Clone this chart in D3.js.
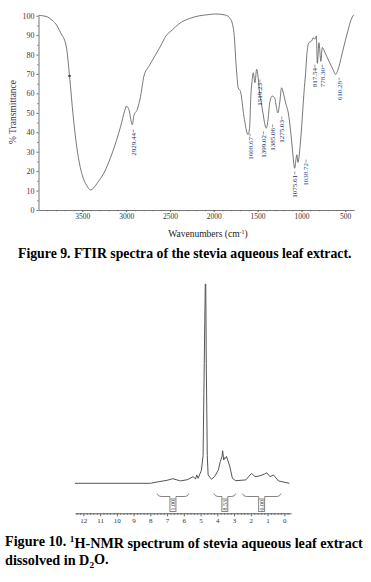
<!DOCTYPE html>
<html>
<head>
<meta charset="utf-8">
<script src="https://cdn.jsdelivr.net/npm/d3@7"></script>
<style>
  body { margin: 0; background: #fff; }
  svg { display: block; }
</style>
</head>
<body>
<svg id="fig" width="371" height="582"></svg>
<script>
// FTIR spectrum (wavenumber cm-1, % transmittance)
const ftirWavenumber = [4000, 3900, 3860, 3800, 3748, 3684, 3646, 3604, 3559, 3502, 3450, 3406, 3370, 3330, 3254, 3159, 3063, 3020, 2995, 2969, 2929.44, 2912, 2874, 2835, 2797, 2740, 2683, 2607, 2550, 2470, 2398, 2280, 2170, 2050, 1979, 1865, 1808, 1770, 1744, 1721, 1695, 1656, 1609, 1590, 1579, 1561, 1550, 1530, 1511, 1493, 1477, 1458, 1439, 1416, 1400, 1381, 1362, 1333, 1305, 1287, 1268, 1248, 1226, 1207, 1180, 1150, 1123, 1104, 1076, 1063, 1052, 1039, 1019, 997, 971, 952, 934, 914, 883, 865, 845, 830, 818, 800, 778, 762, 731, 686, 640, 610, 571, 533, 495, 465, 438, 412, 400];
const ftirTransmittance = [100.2, 99.4, 98.2, 95.6, 91.3, 84.4, 69, 48.2, 31, 18.1, 12.6, 10.3, 11.4, 13.8, 19, 29.3, 43, 50.5, 53.4, 51.7, 43.9, 48.6, 51.7, 58.6, 68.9, 74, 78.4, 84.4, 89.3, 92.8, 95.8, 98.5, 99.9, 100.6, 100.9, 100.3, 98.2, 91.3, 74, 62.9, 61, 48.2, 38.8, 43, 56.8, 67.2, 70.6, 65.5, 72.4, 68, 60.3, 55.1, 50, 43.9, 42.2, 46.5, 55.1, 58.6, 57.7, 53.4, 50, 55.1, 62.9, 60.3, 55.1, 50, 40.5, 31.9, 21.5, 25.8, 28.4, 24.5, 31, 43, 60.3, 70.6, 82, 86.1, 87, 88.7, 87.9, 89.6, 75.5, 86.1, 76.5, 83.6, 81, 76.6, 72.4, 69.8, 74, 81, 87.9, 93, 97.3, 99.9, 100.5];

// labelled FTIR bands
const peakLabels = ['2929.44', '1608.67', '1519.23', '1399.02', '1385.06', '1275.03', '1075.61', '1038.72', '817.54', '778.30', '610.28'];
const peakWavenumber = [2929.44, 1608.67, 1519.23, 1399.02, 1385.06, 1275.03, 1075.61, 1038.72, 817.54, 778.30, 610.28];
const peakTransmittance = [41.7, 39.6, 67.4, 40.7, 44.3, 48.4, 20.1, 26.2, 75.1, 75.1, 68.5];

const ftirXTicks = [3500, 3000, 2500, 2000, 1500, 1000, 500];
const ftirYTicks = [0, 10, 20, 30, 40, 50, 60, 70, 80, 90, 100];

// 1H-NMR spectrum (ppm, relative intensity)
const nmrShift = [12.5, 8.0, 7.5, 7.0, 6.66, 6.2, 5.8, 5.45, 5.3, 5.23, 5.15, 4.95, 4.85, 4.78, 4.72, 4.69, 4.66, 4.6, 4.55, 4.35, 4.15, 3.94, 3.82, 3.72, 3.68, 3.62, 3.55, 3.5, 3.45, 3.38, 3.25, 3.1, 2.9, 2.3, 1.95, 1.75, 1.45, 1.2, 1.05, 0.85, 0.65, 0.35, -0.3];
const nmrIntensity = [0, 0, 0.8, 1.5, 2.3, 1.2, 1.8, 3.3, 2.2, 4.2, 2.5, 6.5, 14, 60, 100, 100, 60, 14, 4.2, 2, 3.5, 6.7, 11, 13.5, 16.3, 11.7, 13, 12.6, 13.5, 11.7, 8.3, 2.5, 1.3, 1.7, 5, 3.3, 3.8, 4.6, 5.3, 3.3, 4.2, 1.2, 0];

// integration regions
const integStart = [7.6, 4.2, 2.5];
const integEnd = [5.7, 2.9, 0.2];
const integValue = ['1.00', '8.53', '6.00'];

const nmrTicks = d3.range(0, 13);

const svg = d3.select('#fig');
const serif = '"Liberation Serif", "Times New Roman", serif';

function fitWidth(t, w) {
  const len = t.node().getComputedTextLength();
  t.attr('font-size', parseFloat(t.attr('font-size')) * w / len);
}

// ---------- Figure 9: FTIR ----------
const x = d3.scaleLinear().domain([4000, 400]).range([38.5, 354]);
const y = d3.scaleLinear().domain([0, 100]).range([210, 15.7]);

const yAxis = svg.append('g')
  .attr('transform', 'translate(38.5,0)')
  .call(d3.axisLeft(y).tickValues(ftirYTicks).tickSize(2).tickSizeOuter(0).tickPadding(2));
svg.append('g')
  .attr('transform', 'translate(38.5,0)')
  .call(d3.axisLeft(y).tickValues(d3.range(5, 100, 10)).tickSize(1.2).tickFormat(''))
  .call(g => g.select('.domain').remove());
yAxis.selectAll('text').attr('font-family', serif).attr('font-size', 8).attr('fill', '#5a2d4a');

const xAxis = svg.append('g')
  .attr('transform', 'translate(0,210)')
  .call(d3.axisBottom(x).tickValues(ftirXTicks).tickFormat(d3.format('d')).tickSize(2).tickSizeOuter(0).tickPadding(2));
svg.append('g')
  .attr('transform', 'translate(0,210)')
  .call(d3.axisBottom(x).tickValues(d3.range(3900, 400, -100)).tickSize(1.2).tickFormat(''))
  .call(g => g.select('.domain').remove());
xAxis.selectAll('text').attr('font-family', serif).attr('font-size', 7.5).attr('fill', '#333');

svg.selectAll('.domain').attr('stroke', '#777');
svg.selectAll('.tick line').attr('stroke', '#777');

svg.append('text')
  .attr('transform', 'translate(16,112) rotate(-90)')
  .attr('text-anchor', 'middle')
  .attr('font-family', serif).attr('font-size', 9.5).attr('fill', '#3a2a4a')
  .text('% Transmittance');

const xTitle = svg.append('text')
  .attr('x', 208).attr('y', 237)
  .attr('text-anchor', 'middle')
  .attr('font-family', serif).attr('font-size', 9.5).attr('fill', '#222');
xTitle.append('tspan').text('Wavenumbers (cm');
xTitle.append('tspan').attr('font-size', 6).attr('dy', -3.5).text('-1');
xTitle.append('tspan').attr('dy', 3.5).text(')');

const ftir = ftirWavenumber.map((w, i) => [w, ftirTransmittance[i]]);
svg.append('path')
  .datum(ftir)
  .attr('fill', 'none')
  .attr('stroke', '#555')
  .attr('stroke-width', 0.8)
  .attr('d', d3.line().x(d => x(d[0])).y(d => y(d[1])).curve(d3.curveMonotoneX));

// small cursor mark on the OH band
svg.append('line')
  .attr('x1', x(3646) - 1.5).attr('x2', x(3646) + 1.5)
  .attr('y1', y(69)).attr('y2', y(69))
  .attr('stroke', '#000').attr('stroke-width', 1);

// horizontal nudges so crowded labels don't sit on top of each other
const labelShift = [0, 1, 3, -4, 4, 3.5, -1, 7, -3.5, 0.5, 2.5];
const peaks = svg.append('g');
peakLabels.forEach((lab, i) => {
  const px = x(peakWavenumber[i]) + 1 + labelShift[i];
  const py = y(peakTransmittance[i]);
  peaks.append('line')
    .attr('x1', px).attr('x2', px)
    .attr('y1', py + 0.5).attr('y2', py + 3.5)
    .attr('stroke', '#555').attr('stroke-width', 0.6);
  peaks.append('text')
    .attr('transform', `translate(${px},${py + 4}) rotate(-90)`)
    .attr('text-anchor', 'end')
    .attr('dy', '0.35em')
    .attr('font-family', serif).attr('font-size', 7)
    .attr('fill', ['1038.72', '778.30', '610.28', '1608.67'].includes(lab) ? '#23479a' : '#1e2a55')
    .text(lab);
});

const cap1 = svg.append('text')
  .attr('x', 18).attr('y', 258)
  .attr('font-family', serif).attr('font-weight', 'bold').attr('font-size', 12).attr('fill', '#000')
  .text('Figure 9. FTIR spectra of the stevia aqueous leaf extract.');
fitWidth(cap1, 334);

// ---------- Figure 10: 1H-NMR ----------
const nx = d3.scaleLinear().domain([12.5, -0.4]).range([75, 291]);
const ny = d3.scaleLinear().domain([0, 100]).range([483.3, 284]);

const nmr = nmrShift.map((s, i) => [s, nmrIntensity[i]]);
svg.append('path')
  .datum(nmr)
  .attr('fill', 'none')
  .attr('stroke', '#555')
  .attr('stroke-width', 1)
  .attr('d', d3.line().x(d => nx(d[0])).y(d => ny(d[1])));

const nAxis = svg.append('g')
  .attr('transform', 'translate(0,513.3)')
  .call(d3.axisBottom(nx).tickValues(nmrTicks).tickSize(3).tickSizeOuter(0).tickPadding(2));
svg.append('g')
  .attr('transform', 'translate(0,513.3)')
  .call(d3.axisBottom(nx).tickValues(d3.range(-0.2, 12.5, 0.2).filter(v => Math.abs(v - Math.round(v)) > 0.01)).tickSize(1.5).tickFormat(''))
  .call(g => g.select('.domain').remove());
nAxis.selectAll('text').attr('font-family', serif).attr('font-size', 7).attr('fill', '#333');
nAxis.select('.domain').attr('stroke', '#555');
svg.selectAll('.tick line').attr('stroke', '#666');

// integration brackets and values
const integ = svg.append('g').attr('fill', 'none').attr('stroke', '#666').attr('stroke-width', 0.8);
integValue.forEach((v, i) => {
  const x1 = nx(integStart[i]);
  const x2 = nx(integEnd[i]);
  const xm = (x1 + x2) / 2;
  const y0 = 493.5;
  integ.append('path')
    .attr('d', `M${x1},${y0} Q${x1 + 1},${y0 + 3} ${x1 + 4},${y0 + 3} L${xm - 3},${y0 + 3} L${xm - 3},${y0 + 5} M${xm + 3},${y0 + 5} L${xm + 3},${y0 + 3} L${x2 - 4},${y0 + 3} Q${x2 - 1},${y0 + 3} ${x2},${y0}`);
  integ.append('rect')
    .attr('x', xm - 3).attr('y', 499).attr('width', 6).attr('height', 12.5);
  svg.append('text')
    .attr('transform', `translate(${xm},505.3) rotate(-90)`)
    .attr('text-anchor', 'middle')
    .attr('dy', '0.35em')
    .attr('font-family', serif).attr('font-size', 6).attr('fill', '#333')
    .text(v);
});

const cap2 = svg.append('text')
  .attr('x', 5).attr('y', 546)
  .attr('font-family', serif).attr('font-weight', 'bold').attr('font-size', 12).attr('fill', '#000');
cap2.append('tspan').text('Figure 10. ');
cap2.append('tspan').attr('font-size', '65%').attr('dy', '-0.45em').text('1');
cap2.append('tspan').attr('dy', '0.45em').text('H-NMR spectrum of stevia aqueous leaf extract');
fitWidth(cap2, 358);

const cap3 = svg.append('text')
  .attr('x', 5).attr('y', 565)
  .attr('font-family', serif).attr('font-weight', 'bold').attr('font-size', cap2.attr('font-size')).attr('fill', '#000');
cap3.append('tspan').text('dissolved in D');
cap3.append('tspan').attr('font-size', '65%').attr('dy', '0.3em').text('2');
cap3.append('tspan').attr('dy', '-0.3em').text('O.');
</script>
</body>
</html>
